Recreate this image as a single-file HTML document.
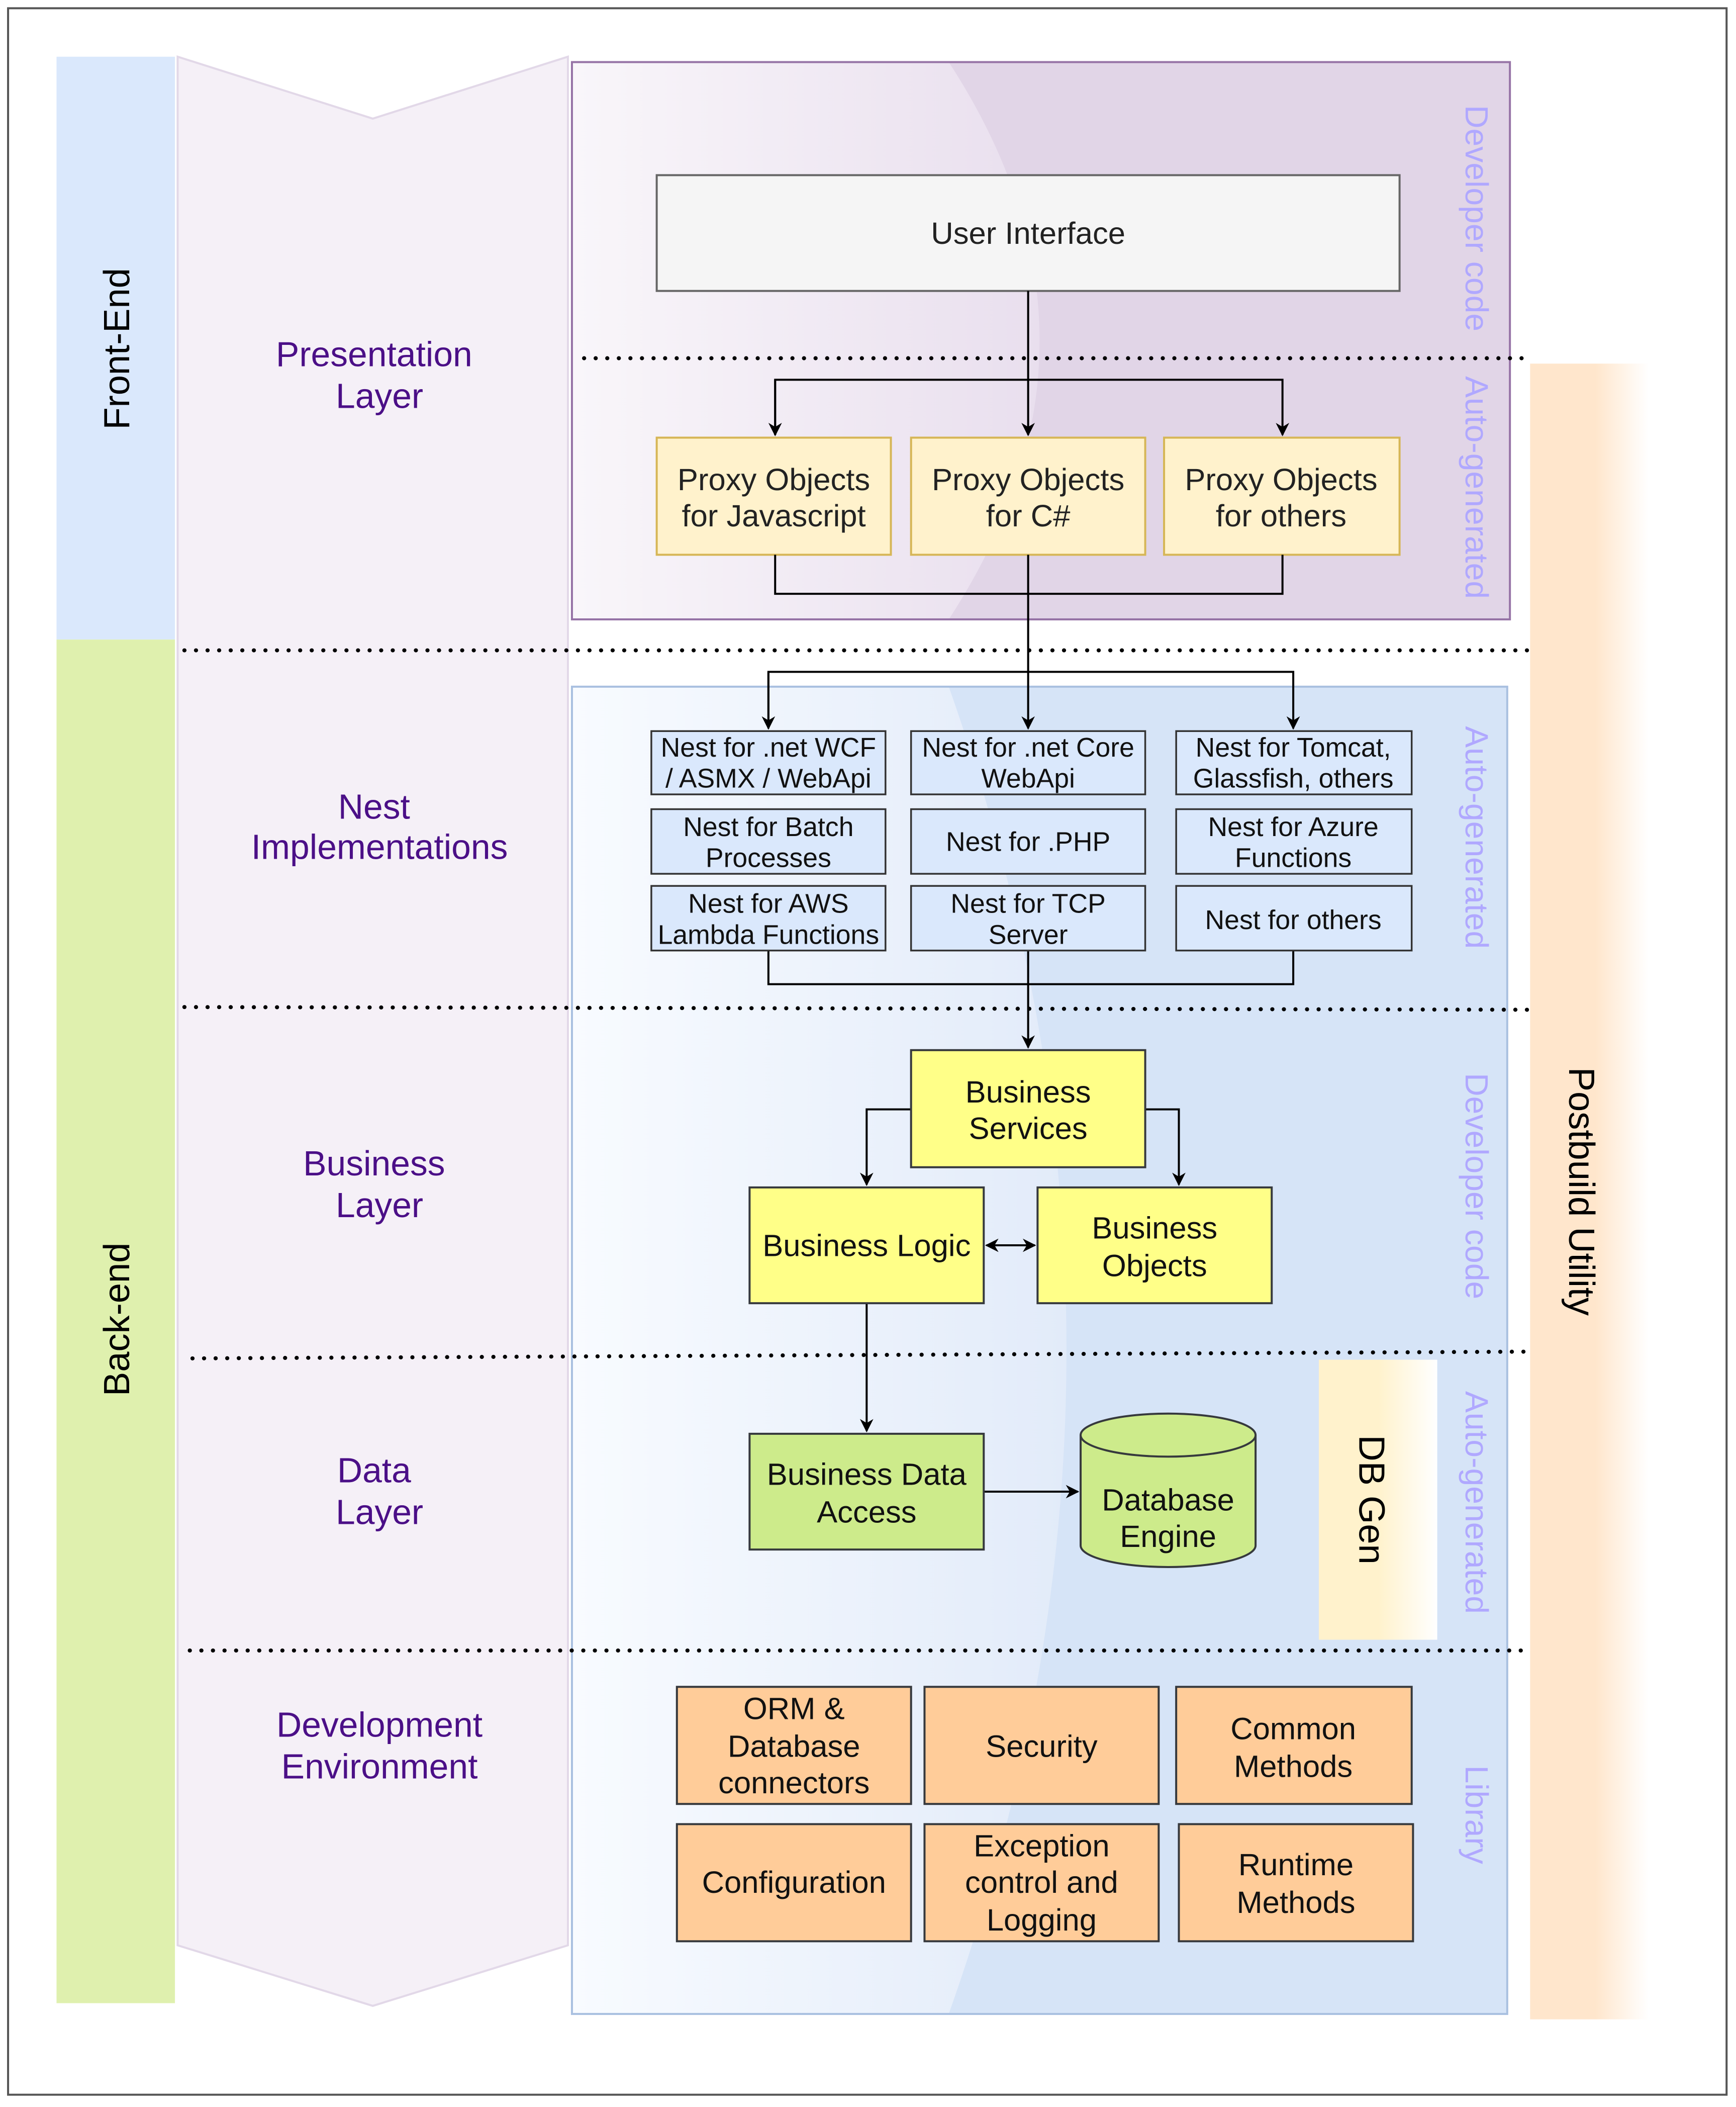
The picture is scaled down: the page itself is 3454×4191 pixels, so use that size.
<!DOCTYPE html>
<html><head><meta charset="utf-8"><style>
html,body{margin:0;padding:0;background:#fff}
svg{display:block}
text{font-family:"Liberation Sans",Arial,sans-serif}
</style></head><body>
<svg width="3454" height="4191" viewBox="0 0 1290 1565" xmlns="http://www.w3.org/2000/svg">
<defs>
<linearGradient id="gp" x1="0" y1="0" x2="1" y2="0"><stop offset="0" stop-color="#f9f6fa"/><stop offset="1" stop-color="#e9dfee"/></linearGradient>
<linearGradient id="gb" x1="0" y1="0" x2="1" y2="0"><stop offset="0" stop-color="#f8fbff"/><stop offset="1" stop-color="#e2ebf9"/></linearGradient>
<linearGradient id="go" x1="0" y1="0" x2="1" y2="0"><stop offset="0" stop-color="#ffe6cc"/><stop offset="0.55" stop-color="#ffe6cc"/><stop offset="1" stop-color="#ffffff"/></linearGradient>
<linearGradient id="gy" x1="0" y1="0" x2="1" y2="0"><stop offset="0" stop-color="#fff2cc"/><stop offset="0.5" stop-color="#fff2cc"/><stop offset="1" stop-color="#ffffff"/></linearGradient>
<marker id="ar" markerWidth="10" markerHeight="10" refX="9" refY="5" orient="auto" markerUnits="userSpaceOnUse"><path d="M0,0 L10,5 L0,10 L3,5 z" fill="#000"/></marker>
<marker id="as" markerWidth="10" markerHeight="10" refX="1" refY="5" orient="auto" markerUnits="userSpaceOnUse"><path d="M10,0 L0,5 L10,10 L7,5 z" fill="#000"/></marker>
</defs>
<rect x="6" y="6" width="1277" height="1550" fill="#fff" stroke="#555" stroke-width="1.5"/>
<rect x="42" y="42" width="88" height="433" fill="#dae8fc"/>
<rect x="42" y="475" width="88" height="1013" fill="#dff0ae"/>
<text transform="translate(96,259) rotate(-90)" font-size="27" text-anchor="middle">Front-End</text>
<text transform="translate(96,980) rotate(-90)" font-size="27" text-anchor="middle">Back-end</text>
<polygon points="132,42 277,88 422,42 422,1445 277,1490 132,1445" fill="#f5f0f7" stroke="#e2d8e8" stroke-width="1.5"/>
<rect x="425" y="46" width="697" height="414" fill="#e1d5e7"/>
<path d="M425,46 L705,46 Q840,253 705,460 L425,460 Z" fill="url(#gp)"/>
<rect x="425" y="46" width="697" height="414" fill="none" stroke="#9673a6" stroke-width="1.5"/>
<rect x="425" y="510" width="695" height="986" fill="#d6e4f7"/>
<path d="M425,510 L705,510 Q880,1003 705,1496 L425,1496 Z" fill="url(#gb)"/>
<rect x="425" y="510" width="695" height="986" fill="none" stroke="#a9c0e0" stroke-width="1.5"/>
<rect x="1137" y="270" width="88" height="1230" fill="url(#go)"/>
<text transform="translate(1166,885) rotate(90)" font-size="27" text-anchor="middle">Postbuild Utility</text>
<rect x="980" y="1010" width="88" height="208" fill="url(#gy)"/>
<text transform="translate(1010,1114) rotate(90)" font-size="27" text-anchor="middle">DB Gen</text>
<g fill="#b0a8ff" font-size="24" text-anchor="middle">
<text transform="translate(1089,162) rotate(90)">Developer code</text>
<text transform="translate(1089,362) rotate(90)">Auto-generated</text>
<text transform="translate(1089,622) rotate(90)">Auto-generated</text>
<text transform="translate(1089,881) rotate(90)">Developer code</text>
<text transform="translate(1089,1116) rotate(90)">Auto-generated</text>
<text transform="translate(1089,1348) rotate(90)">Library</text>
</g>
<g stroke="#000" stroke-width="3" stroke-dasharray="0.1 8.5" stroke-linecap="round">
<line x1="434" y1="266" x2="1135" y2="266"/>
<line x1="137" y1="483" x2="1137" y2="483"/>
<line x1="137" y1="748" x2="1137" y2="750"/>
<line x1="143" y1="1009" x2="1133" y2="1004"/>
<line x1="141" y1="1226" x2="1133" y2="1226"/>
</g>
<g fill="#4b0f87" font-size="26" text-anchor="middle">
<text x="278" y="272">Presentation</text><text x="282" y="303">Layer</text>
<text x="278" y="608">Nest</text><text x="282" y="638">Implementations</text>
<text x="278" y="873">Business</text><text x="282" y="904">Layer</text>
<text x="278" y="1101">Data</text><text x="282" y="1132">Layer</text>
<text x="282" y="1290">Development</text><text x="282" y="1321">Environment</text>
</g>
<g font-size="23" text-anchor="middle" fill="#222">
<rect x="488" y="130" width="552" height="86" fill="#f5f5f5" stroke="#666" stroke-width="1.5"/>
<text x="764" y="181">User Interface</text>
<g fill="#fff2cc" stroke="#d6b656" stroke-width="1.5">
<rect x="488" y="325" width="174" height="87"/><rect x="677" y="325" width="174" height="87"/><rect x="865" y="325" width="175" height="87"/>
</g>
<text x="575" y="364">Proxy Objects</text><text x="575" y="391">for Javascript</text>
<text x="764" y="364">Proxy Objects</text><text x="764" y="391">for C#</text>
<text x="952" y="364">Proxy Objects</text><text x="952" y="391">for others</text>
</g>
<g stroke="#000" stroke-width="1.5" fill="none">
<line x1="764" y1="216" x2="764" y2="323" marker-end="url(#ar)"/>
<polyline points="576,323 576,282 953,282 953,323" marker-end="url(#ar)"/>
<line x1="576" y1="282" x2="576" y2="323" marker-end="url(#ar)"/>
<polyline points="576,412 576,441 953,441 953,412"/>
<line x1="764" y1="412" x2="764" y2="541" marker-end="url(#ar)"/>
<polyline points="571,541 571,499 961,499 961,541" marker-end="url(#ar)"/>
<line x1="571" y1="499" x2="571" y2="541" marker-end="url(#ar)"/>
<polyline points="571,706 571,731 961,731 961,706"/>
<line x1="764" y1="706" x2="764" y2="778" marker-end="url(#ar)"/>
<polyline points="677,824 644,824 644,880" marker-end="url(#ar)"/>
<polyline points="851,824 876,824 876,880" marker-end="url(#ar)"/>
<line x1="733" y1="925" x2="769" y2="925" marker-end="url(#ar)" marker-start="url(#as)"/>
<line x1="644" y1="968" x2="644" y2="1063" marker-end="url(#ar)"/>
<line x1="731" y1="1108" x2="801" y2="1108" marker-end="url(#ar)"/>
</g>
<g fill="#dae8fc" stroke="#333" stroke-width="1.3">
<rect x="484" y="543" width="174" height="47"/><rect x="677" y="543" width="174" height="47"/><rect x="874" y="543" width="175" height="47"/>
<rect x="484" y="601" width="174" height="48"/><rect x="677" y="601" width="174" height="48"/><rect x="874" y="601" width="175" height="48"/>
<rect x="484" y="658" width="174" height="48"/><rect x="677" y="658" width="174" height="48"/><rect x="874" y="658" width="175" height="48"/>
</g>
<g font-size="20" text-anchor="middle" fill="#111">
<text x="571" y="562">Nest for .net WCF</text><text x="571" y="585">/ ASMX / WebApi</text>
<text x="764" y="562">Nest for .net Core</text><text x="764" y="585">WebApi</text>
<text x="961" y="562">Nest for Tomcat,</text><text x="961" y="585">Glassfish, others</text>
<text x="571" y="621">Nest for Batch</text><text x="571" y="644">Processes</text>
<text x="764" y="632">Nest for .PHP</text>
<text x="961" y="621">Nest for Azure</text><text x="961" y="644">Functions</text>
<text x="571" y="678">Nest for AWS</text><text x="571" y="701">Lambda Functions</text>
<text x="764" y="678">Nest for TCP</text><text x="764" y="701">Server</text>
<text x="961" y="690">Nest for others</text>
</g>
<g stroke="#36393d" stroke-width="1.5">
<rect x="677" y="780" width="174" height="87" fill="#ffff88"/>
<rect x="557" y="882" width="174" height="86" fill="#ffff88"/>
<rect x="771" y="882" width="174" height="86" fill="#ffff88"/>
<rect x="557" y="1065" width="174" height="86" fill="#cdeb8b"/>
<path d="M803,1066 L803,1148 A65,16 0 0 0 933,1148 L933,1066" fill="#cdeb8b"/>
<ellipse cx="868" cy="1066" rx="65" ry="16" fill="#cdeb8b"/>
</g>
<g fill="#ffcc99" stroke="#36393d" stroke-width="1.5">
<rect x="503" y="1253" width="174" height="87"/><rect x="687" y="1253" width="174" height="87"/><rect x="874" y="1253" width="175" height="87"/>
<rect x="503" y="1355" width="174" height="87"/><rect x="687" y="1355" width="174" height="87"/><rect x="876" y="1355" width="174" height="87"/>
</g>
<g font-size="23" text-anchor="middle" fill="#111">
<text x="764" y="819">Business</text><text x="764" y="846">Services</text>
<text x="644" y="933">Business Logic</text>
<text x="858" y="920">Business</text><text x="858" y="948">Objects</text>
<text x="644" y="1103">Business Data</text><text x="644" y="1131">Access</text>
<text x="868" y="1122">Database</text><text x="868" y="1149">Engine</text>
<text x="590" y="1277">ORM &amp;</text><text x="590" y="1305">Database</text><text x="590" y="1332">connectors</text>
<text x="774" y="1305">Security</text>
<text x="961" y="1292">Common</text><text x="961" y="1320">Methods</text>
<text x="590" y="1406">Configuration</text>
<text x="774" y="1379">Exception</text><text x="774" y="1406">control and</text><text x="774" y="1434">Logging</text>
<text x="963" y="1393">Runtime</text><text x="963" y="1421">Methods</text>
</g>
</svg>
</body></html>
